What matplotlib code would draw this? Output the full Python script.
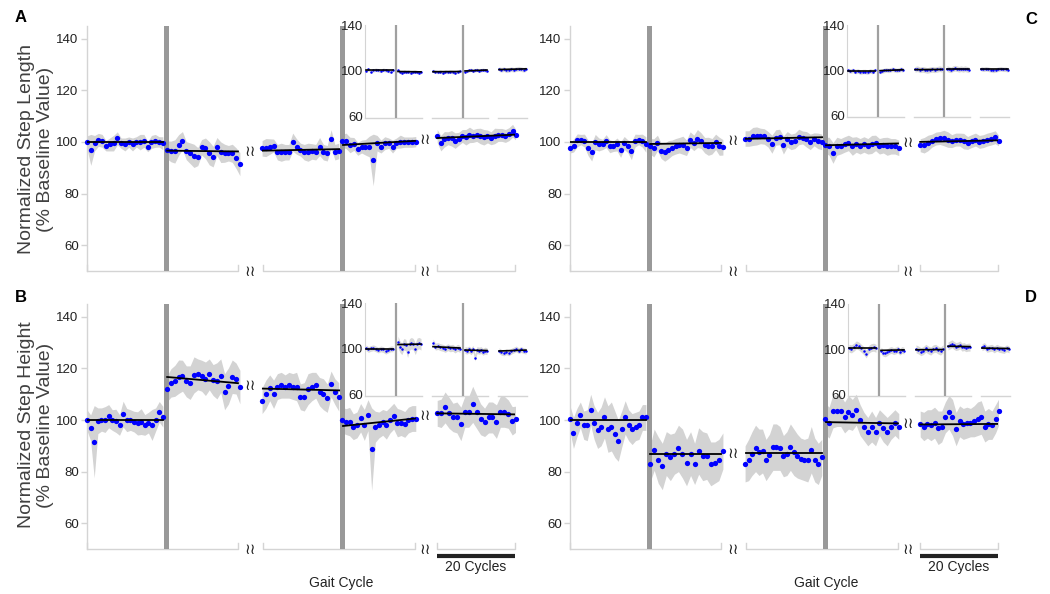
import numpy as np
import matplotlib
matplotlib.use("Agg")
import matplotlib.pyplot as plt

plt.rcParams['font.family'] = ['Liberation Sans', 'DejaVu Sans']

# ---------------- data ----------------
# Each panel: 5 segments (baseline | perturbation || late perturbation | post || late post)
A_vals = [
    [99.8, 96.9, 99.5, 100.8, 100.4, 98.5, 99.0, 99.5, 101.4, 99.5, 99.0, 99.9, 99.0, 100.0, 99.9, 100.4, 98.2, 100.0, 100.4, 100.0, 99.5],
    [96.9, 96.3, 96.3, 98.8, 100.5, 96.6, 95.6, 94.6, 94.3, 97.9, 97.5, 95.6, 94.3, 98.2, 96.0, 95.6, 95.6, 95.6, 93.7, 91.4],
    [97.5, 97.8, 98.2, 98.6, 96.0, 96.0, 96.0, 96.0, 99.9, 98.2, 97.0, 96.0, 96.0, 96.3, 96.0, 98.2, 96.0, 95.6, 101.2, 96.0, 96.5],
    [100.4, 100.4, 98.8, 99.2, 97.3, 98.2, 97.9, 98.2, 93.0, 99.5, 98.2, 99.5, 99.5, 98.2, 99.5, 100.1, 99.9, 99.9, 99.9, 100.1],
    [102.3, 99.5, 101.0, 101.4, 101.4, 100.5, 101.2, 102.3, 101.8, 102.7, 102.3, 102.7, 102.3, 101.8, 102.1, 101.4, 102.3, 102.7, 102.7, 102.3, 103.0, 104.3, 102.6],
]
A_sd = [
    [2.5, 6, 3, 2.5, 2.5, 2, 2.5, 3, 2.5, 2, 2.5, 2, 2.5, 2, 3, 2.5, 2, 2.5, 2.5, 2, 2.5],
    [3.5, 4, 4.5, 4, 3.5, 3.5, 4, 4.5, 3.5, 3, 4, 4.5, 4, 3.5, 4, 3.5, 3, 3.5, 4, 4.5],
    [3, 3.5, 3, 2.5, 3, 3.5, 3, 3, 3.5, 3, 2.5, 3, 3.5, 3, 3, 3.5, 3, 3, 3.5, 3, 3],
    [2.5, 3, 3, 2.5, 2.5, 2.5, 3, 4, 10, 3, 2.5, 2.5, 2, 2.5, 2, 2.5, 2, 2, 2, 2],
    [2.5, 3, 3, 2.5, 3, 3, 2.5, 2.5, 3, 3, 2.5, 2.5, 3, 3, 2.5, 2.5, 3, 2.5, 2.5, 2.5, 2.5, 2.5, 2],
]
A_fit = [(99.8, 99.8), (96.6, 96.3), (96.6, 97.2), (98.8, 100.4), (101.5, 102.8)]

B_vals = [
    [100.0, 97.0, 91.6, 99.7, 100.2, 100.2, 101.5, 100.0, 99.7, 98.1, 102.3, 100.0, 100.0, 99.4, 98.7, 99.4, 98.1, 99.0, 98.1, 100.2, 103.2, 101.3],
    [112.2, 114.4, 115.2, 116.8, 117.2, 115.0, 114.5, 117.5, 117.7, 117.2, 116.0, 117.7, 115.5, 115.2, 117.2, 111.0, 113.2, 116.8, 116.1, 112.8],
    [107.5, 110.0, 112.5, 110.0, 113.0, 113.5, 113.0, 113.5, 113.0, 113.0, 109.0, 109.0, 112.0, 113.0, 113.5, 111.0, 110.0, 108.5, 114.0, 111.0, 109.0],
    [100.0, 99.4, 99.4, 97.4, 98.1, 100.9, 98.1, 101.9, 88.7, 97.4, 98.1, 99.1, 98.1, 100.0, 101.5, 99.0, 99.0, 98.3, 100.0, 100.6, 100.6],
    [102.6, 102.6, 104.9, 102.8, 101.0, 101.0, 98.5, 103.2, 103.2, 106.1, 103.2, 100.3, 99.1, 101.0, 101.0, 99.4, 103.2, 103.2, 102.3, 99.7, 100.4],
]
B_sd = [
    [4, 5, 14, 5, 4.5, 5, 4.5, 4, 4.5, 4, 5, 4.5, 4, 4, 4.5, 5, 4, 4, 6, 4.5, 4, 4],
    [5, 5.5, 6, 6.5, 6, 6, 6.5, 7, 6, 6, 6.5, 6, 6, 7, 6.5, 7, 7, 6.5, 6, 6.5],
    [5, 5.5, 5, 5.5, 5, 5, 4.5, 5, 5, 5.5, 5, 5.5, 6, 5.5, 5, 5.5, 6, 5.5, 5, 5, 5.5],
    [5, 5, 5.5, 5, 5, 5.5, 6, 6, 16, 6, 5, 5, 5.5, 5, 5, 5.5, 5, 5, 5, 5, 5],
    [5, 5.5, 6, 6, 5.5, 6, 6.5, 6, 6, 7, 6.5, 6, 5.5, 6, 6, 6.5, 6, 6, 5.5, 5.5, 5],
]
B_fit = [(100.0, 100.0), (116.7, 114.3), (112.2, 111.5), (97.7, 100.6), (102.6, 102.2)]

C_vals = [
    [97.7, 98.6, 100.6, 100.9, 100.5, 97.7, 96.1, 99.9, 99.0, 99.0, 100.3, 98.3, 98.3, 99.0, 97.0, 99.6, 98.3, 96.6, 100.5, 100.9, 100.5, 99.0],
    [98.3, 97.7, 99.6, 96.6, 96.0, 97.0, 97.7, 98.3, 98.7, 98.7, 97.7, 100.9, 99.6, 101.3, 100.5, 98.7, 98.3, 98.3, 100.0, 98.3, 97.9],
    [101.3, 101.3, 102.1, 102.3, 102.3, 102.1, 101.0, 99.1, 101.7, 101.9, 98.8, 101.0, 100.0, 100.4, 101.9, 101.7, 101.0, 100.0, 101.0, 100.4, 100.0],
    [98.7, 98.3, 95.7, 98.3, 98.3, 99.0, 99.6, 98.3, 99.0, 98.3, 99.0, 98.3, 99.0, 99.6, 98.3, 98.7, 98.3, 98.3, 98.3, 97.7],
    [98.7, 98.7, 99.6, 100.5, 101.3, 101.5, 101.5, 100.9, 100.3, 100.9, 100.9, 100.3, 99.6, 100.3, 100.9, 100.0, 100.3, 100.9, 101.3, 101.8, 100.3],
]
C_sd = [
    [2, 2.5, 2.5, 2, 2.5, 3, 3.5, 3, 2.5, 2, 2.5, 2.5, 2, 2.5, 3, 2.5, 2.5, 3.5, 2.5, 2, 2.5, 3],
    [3, 3.5, 3, 3, 3.5, 3.5, 3, 3, 3, 3.5, 3, 3, 3, 3.5, 3, 3, 3.5, 3, 3, 3.5, 3],
    [3, 3, 3.5, 3.5, 3, 3, 3, 3.5, 3, 3, 3.5, 3, 3, 3, 3, 2.5, 3, 3, 2.5, 3, 3],
    [3, 3.5, 4, 3.5, 3, 3, 3, 3.5, 3, 3, 3, 3, 3.5, 3, 3, 3, 3.5, 3, 3, 3],
    [2.5, 3, 3, 2.5, 2.5, 2.5, 3, 3, 2.5, 2.5, 2.5, 3, 2.5, 2.5, 2.5, 2.5, 2.5, 2.5, 2.5, 2.5, 2],
]
C_fit = [(99.9, 99.9), (99.2, 99.6), (101.2, 101.8), (98.7, 99.4), (100.0, 100.6)]

D_vals = [
    [100.5, 95, 99, 102, 98, 98, 104, 99, 96, 97.5, 101, 96.5, 97.5, 94.5, 92, 96.5, 101, 98, 96.5, 97.5, 98, 101, 101],
    [83, 88.5, 84.5, 82, 87, 85.5, 87, 89, 87, 83.5, 87, 83, 88, 86, 86, 83, 83.5, 84.5, 88],
    [83, 84.5, 87, 89, 87.5, 88, 84.5, 86.5, 89.5, 89.5, 89, 86, 87, 89.5, 87.5, 86, 85, 84.5, 84.5, 88.5, 84.5, 83, 85.5],
    [100.5, 99, 103.5, 103.5, 103.5, 101, 103, 102, 104, 100, 97.5, 95.5, 97.5, 95.5, 99, 97, 95.5, 97.5, 99, 97.5],
    [98.5, 97.5, 98.5, 98, 99, 97, 97.5, 101, 103, 101, 96.5, 99.5, 98.5, 99, 99, 99.5, 100.5, 101, 97.5, 98.5, 98, 100.5, 103.5],
]
D_sd = [
    [5, 6, 5.5, 5, 5.5, 6, 6, 6.5, 7, 7.5, 8, 9, 9.5, 9, 8, 7, 6.5, 6, 6, 5.5, 5.5, 5, 5],
    [7, 8, 9, 9, 8.5, 9, 8, 9, 9.5, 9, 8.5, 8, 9, 9.5, 9, 8.5, 8, 8, 7],
    [7, 8, 8.5, 9, 9, 8.5, 8, 8, 9, 9, 8.5, 8, 8.5, 9, 9, 8.5, 8, 8, 8.5, 9, 8.5, 8, 7],
    [6, 6, 6.5, 6, 6, 6, 6.5, 6, 6, 6, 5.5, 5.5, 6, 5.5, 5, 5.5, 5.5, 5, 5, 5],
    [5, 5.5, 5.5, 6, 6, 6.5, 6, 6, 6.5, 7, 6.5, 6, 6, 6, 5.5, 6, 6.5, 6.5, 6, 6, 5.5, 5.5, 5],
]
D_fit = [(100.2, 100.2), (86.9, 86.9), (87.2, 87.2), (99.2, 98.7), (98.3, 98.5)]

# Insets: pre1 | post1 , pre2 | post2 , seg3
A_in_vals = [
    [100, 101.5, 99.5, 100.5, 101, 100.5, 100, 101, 100.5, 100, 99.5, 100.5],
    [100.5, 99, 98.5, 99.5, 99, 99.5, 98.5, 99, 99.5, 99, 98.5, 99],
    [100, 99.5, 99, 99.5, 98.5, 99.5, 99, 99.5, 99, 98.5, 99.5, 100],
    [99.5, 100, 100.5, 101, 100, 100.5, 101, 100, 100.5, 101, 100.5, 100],
    [101.5, 101, 101.5, 100.5, 101, 101.5, 101, 101.5, 102, 101.5, 101, 101.5],
]
A_in_sd = [1.5, 1.5, 1.5, 1.5, 2.0]
A_in_fit = [(100.5, 100.5), (99.5, 99.2), (99.3, 99.5), (100.0, 100.8), (101.2, 101.8)]

B_in_vals = [
    [101, 99.5, 100.5, 101, 100, 99, 100, 99.5, 98, 99, 100, 100],
    [106, 102, 100, 104, 103.5, 97.5, 104, 105, 104, 100, 104.5, 105, 104],
    [105.5, 102, 102.5, 101.5, 101, 100, 101.5, 100.5, 101, 99.5, 101, 100],
    [99, 98.5, 99.5, 98, 100, 92.5, 99, 98.5, 99, 97.5, 98.5, 98],
    [98.5, 97, 96.5, 97.5, 96.5, 98, 99, 100, 98.5, 99.5, 98.5, 98],
]
B_in_sd = [2.5, 5.0, 3.0, 3.0, 2.5]
B_in_fit = [(100.0, 100.0), (103.8, 104.2), (102.0, 100.8), (99.0, 98.6), (98.2, 99.0)]

C_in_vals = [
    [100, 99.5, 100, 99, 99.5, 98.5, 99, 99, 98.5, 99.5, 99, 100],
    [99, 99.5, 100, 100.5, 100, 100.5, 101, 100.5, 100, 100.5, 101, 100.5],
    [101, 101.5, 100.5, 101, 100.5, 100, 100.5, 101, 100.5, 101, 101.5, 101],
    [101.5, 101, 100.5, 101.5, 102, 101.5, 101, 101.5, 101, 101.5, 101, 100.5],
    [101.5, 101, 101.5, 101, 100.5, 100, 100.5, 101, 101.5, 101, 101, 100.5],
]
C_in_sd = [2.0, 2.0, 2.5, 2.5, 2.0]
C_in_fit = [(99.7, 99.7), (99.8, 100.6), (100.7, 100.9), (101.3, 101.3), (101.0, 101.0)]

D_in_vals = [
    [101, 100.5, 102, 104, 103, 101, 99, 96, 100, 101.5, 102, 101],
    [99, 97, 96.5, 97.5, 99, 99.5, 98.5, 99, 100, 98, 99.5, 99],
    [100.5, 99.5, 98, 99, 101, 99.5, 98.5, 100.5, 101, 99.5, 98.5, 100.5],
    [103, 104, 105, 103.5, 102.5, 103, 104, 102, 102.5, 101.5, 102, 102],
    [102, 103, 100.5, 101, 101.5, 100, 101.5, 100.5, 100, 99.5, 101, 100],
]
D_in_sd = [3.5, 3.0, 3.5, 3.5, 3.0]
D_in_fit = [(101.3, 101.3), (99.2, 99.6), (99.7, 99.9), (102.8, 102.5), (101.2, 100.8)]

YTICKS = [60, 80, 100, 120, 140]
INSET_TICKS = [60, 100, 140]

# ---------------- layout ----------------
W, H = 1050, 594
fig = plt.figure(figsize=(W / 100, H / 100), dpi=100)

SEG = [(0.0, 19.5), (20.6, 39.3), (45.0, 64.7), (65.6, 84.5), (90.0, 110.3)]
FIT_X = [(0.0, 19.6), (20.6, 38.8), (45.2, 64.8), (65.8, 84.3), (90.0, 110.0)]
BARS = [(19.8, 21.1), (65.0, 66.2)]
GROUPS = [(0.0, 38.8), (45.2, 84.3), (90.0, 110.0)]
BREAK_X = [41.9, 86.9]

INSET_PARTS = [(1, 28), (33, 56), (68, 95), (100, 122), (134, 161)]
INSET_LINES = [30.5, 97.5]
INSET_GROUPS = [(0, 57), (67, 123), (133, 162)]

GRID_GRAY = '#d4d4d4'
BAND = '#d3d3d3'
BLUE = '#0000ff'
TXT = '#222222'


def rect_px(left, top, right, bottom):
    return [left / W, 1 - bottom / H, (right - left) / W, (bottom - top) / H]


def draw_main(rect, vals, sds, fits, scalebar=False):
    ax = fig.add_axes(rect)
    ax.patch.set_alpha(0)
    ax.set_xlim(0, 110)
    ax.set_ylim(50, 145)
    for s in ['top', 'right', 'bottom']:
        ax.spines[s].set_visible(False)
    ax.spines['left'].set_color(GRID_GRAY)
    ax.spines['left'].set_linewidth(1.0)
    ax.set_xticks([])
    ax.set_yticks(YTICKS)
    ax.tick_params(axis='y', colors=GRID_GRAY, labelcolor=TXT, labelsize=9.5,
                   length=4, width=1, pad=2)
    for a, b in BARS:
        ax.axvspan(a, b, color='#999999', lw=0, zorder=2)
    for a, b in GROUPS:
        ax.plot([a, a, b, b], [52.4, 50, 50, 52.4], color=GRID_GRAY, lw=1.0,
                clip_on=False, zorder=1)
    for seg, sd, fit, (x0, x1), (f0, f1) in zip(vals, sds, fits, SEG, FIT_X):
        y = np.array(seg, dtype=float)
        s = np.array(sd, dtype=float)
        x = np.linspace(x0, x1, len(y))
        ax.fill_between(x, y - s, y + s, color=BAND, lw=0, zorder=1)
        ax.plot(x, y, 'o', color=BLUE, ms=3.8, mec='none', zorder=3, clip_on=False)
        ax.plot([f0, f1], fit, color='black', lw=1.3, zorder=4)
    # break marks
    lv = [(fits[1][1] + fits[2][0]) / 2, (fits[3][1] + fits[4][0]) / 2]
    for bx, yl in zip(BREAK_X, lv):
        for yy in (yl, 50):
            ax.text(bx, yy, '≀≀', ha='center', va='center', fontsize=11,
                    family='DejaVu Sans', color='#222222', clip_on=False)
    if scalebar:
        ax.plot([90, 110], [47.2, 47.2], color='#222222', lw=3.0,
                solid_capstyle='butt', clip_on=False)
        ax.text(100, 43.2, '20 Cycles', ha='center', va='center',
                fontsize=10, color=TXT)
    return ax


def draw_inset(rect, vals, sds, fits):
    ia = fig.add_axes(rect)
    ia.patch.set_alpha(0)
    ia.set_xlim(0, 162)
    ia.set_ylim(59, 140)
    for s in ['top', 'right', 'bottom']:
        ia.spines[s].set_visible(False)
    ia.spines['left'].set_color(GRID_GRAY)
    ia.set_xticks([])
    ia.set_yticks(INSET_TICKS)
    ia.tick_params(axis='y', length=0, pad=1, labelsize=9.5, labelcolor=TXT)
    for a, b in INSET_GROUPS:
        ia.plot([a, b], [59, 59], color=GRID_GRAY, lw=1.0, clip_on=False)
    for xl in INSET_LINES:
        ia.axvline(xl, color='#a0a0a0', lw=1.6, zorder=2)
    for part, sd, fit, (a, b) in zip(vals, sds, fits, INSET_PARTS):
        y = np.array(part, dtype=float)
        x = np.linspace(a, b, len(y))
        ia.fill_between(x, y - sd, y + sd, color='#d8d8d8', lw=0, zorder=1)
        ia.plot(x, y, 'o', color=BLUE, ms=1.8, mec='none', zorder=3)
        ia.plot([a, b], fit, color='black', lw=1.2, zorder=4)
    return ia


# main panels (pixel boxes)
axA = draw_main(rect_px(87, 25.7, 515, 271), A_vals, A_sd, A_fit)
axB = draw_main(rect_px(87, 304, 515, 549), B_vals, B_sd, B_fit, scalebar=True)
axC = draw_main(rect_px(570, 25.7, 998, 271), C_vals, C_sd, C_fit)
axD = draw_main(rect_px(570, 304, 998, 549), D_vals, D_sd, D_fit, scalebar=True)

draw_inset(rect_px(365, 25, 527, 118), A_in_vals, A_in_sd, A_in_fit)
draw_inset(rect_px(365, 303, 527, 396), B_in_vals, B_in_sd, B_in_fit)
draw_inset(rect_px(847, 25, 1009, 117), C_in_vals, C_in_sd, C_in_fit)
draw_inset(rect_px(848, 304, 1010, 396), D_in_vals, D_in_sd, D_in_fit)

# y labels
fig.text(36 / W, 1 - 149 / H, 'Normalized Step Length\n(% Baseline Value)',
         rotation=90, ha='center', va='center', multialignment='center',
         fontsize=14, color='#404040', linespacing=1.15)
fig.text(36 / W, 1 - 425 / H, 'Normalized Step Height\n(% Baseline Value)',
         rotation=90, ha='center', va='center', multialignment='center',
         fontsize=14, color='#404040', linespacing=1.15)

# panel letters
for letter, (px, py) in zip('ABCD', [(15, 18), (15, 297), (1025, 20), (1025, 298)]):
    fig.text(px / W, 1 - py / H, letter, fontsize=12, fontweight='bold',
             ha='left', va='center', color='black')

# x labels
fig.text(341 / W, 1 - 583 / H, 'Gait Cycle', ha='center', va='center', fontsize=10, color=TXT)
fig.text(826 / W, 1 - 583 / H, 'Gait Cycle', ha='center', va='center', fontsize=10, color=TXT)

fig.savefig('out.png', dpi=100)
